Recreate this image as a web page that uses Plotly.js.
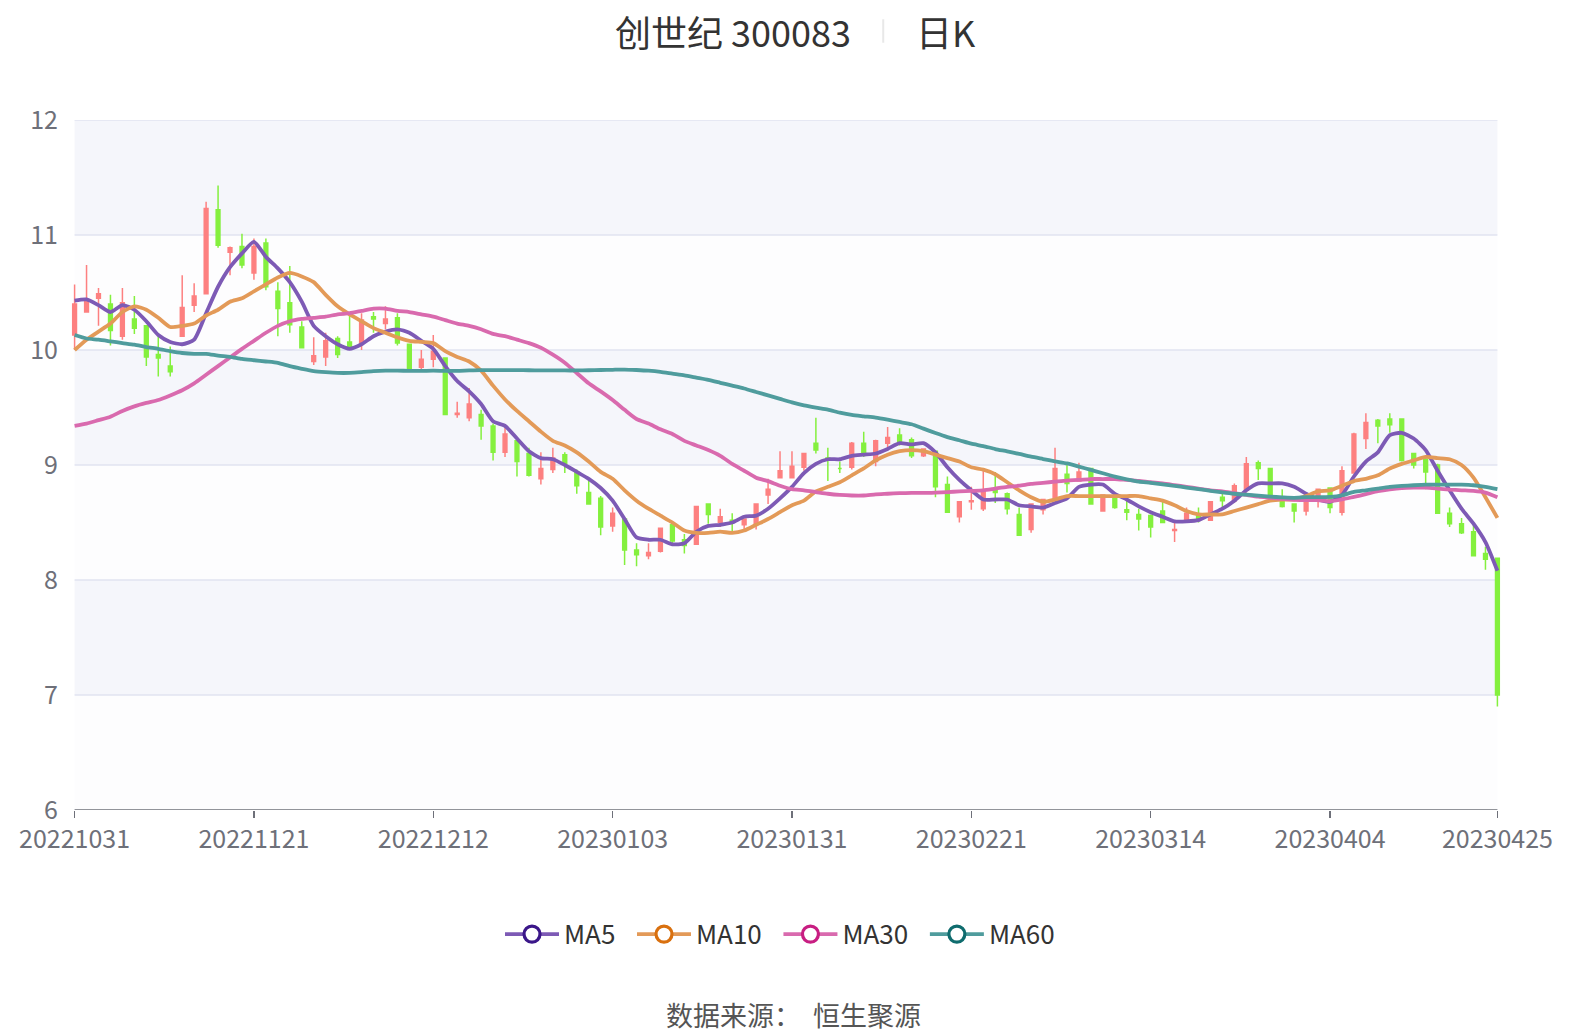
<!DOCTYPE html>
<html>
<head>
<meta charset="utf-8">
<script src="https://cdn.plot.ly/plotly-3.0.1.min.js"></script>
<style>
html,body{margin:0;padding:0;background:#fff;}
#chart{width:1590px;height:1034px;}
</style>
</head>
<body>
<div id="chart"></div>
<script>
// ---- data ----
const dates = [
"20221031","20221101","20221102","20221103","20221104","20221107","20221108","20221109","20221110","20221111",
"20221114","20221115","20221116","20221117","20221118","20221121","20221122","20221123","20221124","20221125",
"20221128","20221129","20221130","20221201","20221202","20221205","20221206","20221207","20221208","20221209",
"20221212","20221213","20221214","20221215","20221216","20221219","20221220","20221221","20221222","20221223",
"20221226","20221227","20221228","20221229","20221230","20230103","20230104","20230105","20230106","20230109",
"20230110","20230111","20230112","20230113","20230116","20230117","20230118","20230119","20230120","20230130",
"20230131","20230201","20230202","20230203","20230206","20230207","20230208","20230209","20230210","20230213",
"20230214","20230215","20230216","20230217","20230220","20230221","20230222","20230223","20230224","20230227",
"20230228","20230301","20230302","20230303","20230306","20230307","20230308","20230309","20230310","20230313",
"20230314","20230315","20230316","20230317","20230320","20230321","20230322","20230323","20230324","20230327",
"20230328","20230329","20230330","20230331","20230403","20230404","20230406","20230407","20230410","20230411",
"20230412","20230413","20230414","20230417","20230418","20230419","20230420","20230421","20230424","20230425"];

const openP = [10.13,10.33,10.45,10.40,10.12,10.27,10.21,9.96,9.86,10.12,
10.39,10.49,11.22,10.85,10.90,10.67,10.93,10.51,10.41,10.20,
9.90,9.94,10.10,10.07,10.06,10.29,10.23,10.28,10.05,9.85,
9.92,9.93,9.44,9.41,9.44,9.34,9.11,9.21,9.10,8.88,
8.96,9.09,8.94,8.76,8.71,8.47,8.53,8.26,8.21,8.25,
8.48,8.35,8.31,8.66,8.50,8.52,8.48,8.49,8.74,8.89,
8.89,8.98,9.19,9.06,8.97,8.98,9.19,9.03,9.19,9.26,
9.22,9.08,9.12,8.83,8.55,8.68,8.62,8.78,8.75,8.57,
8.44,8.61,8.70,8.92,8.86,8.97,8.60,8.73,8.61,8.57,
8.56,8.60,8.43,8.52,8.56,8.52,8.72,8.69,8.78,9.02,
8.97,8.71,8.66,8.60,8.70,8.80,8.59,8.93,9.23,9.39,
9.40,9.40,9.10,9.05,9.00,8.58,8.49,8.42,8.23,8.19];

const highP = [10.57,10.74,10.54,10.48,10.54,10.47,10.21,10.12,10.03,10.65,
10.58,11.29,11.43,10.90,11.01,10.97,10.97,10.59,10.73,10.25,
10.11,10.15,10.12,10.33,10.32,10.33,10.38,10.32,10.05,10.00,
10.13,9.93,9.55,9.67,9.48,9.36,9.35,9.23,9.15,9.11,
9.15,9.11,8.96,8.88,8.73,8.63,8.53,8.32,8.32,8.45,
8.49,8.40,8.64,8.66,8.62,8.58,8.53,8.66,8.88,9.12,
9.12,9.10,9.41,9.15,9.03,9.20,9.29,9.22,9.33,9.32,
9.24,9.14,9.12,8.90,8.68,8.81,8.96,8.94,8.76,8.63,
8.66,8.70,9.15,9.00,9.02,8.97,8.74,8.74,8.69,8.62,
8.57,8.69,8.50,8.63,8.63,8.68,8.75,8.84,9.07,9.04,
8.97,8.79,8.66,8.72,8.79,8.80,8.99,9.28,9.45,9.40,
9.45,9.40,9.10,9.08,9.01,8.63,8.54,8.48,8.29,8.19];

const lowP = [10.00,10.33,10.21,10.04,10.09,10.14,9.86,9.77,9.77,10.12,
10.33,10.49,10.89,10.65,10.71,10.61,10.52,10.12,10.15,10.02,
9.87,9.86,9.93,10.02,10.00,10.15,10.18,10.04,9.82,9.82,
9.85,9.44,9.41,9.38,9.22,9.04,9.07,8.90,8.90,8.83,
8.93,8.93,8.75,8.66,8.39,8.42,8.13,8.12,8.18,8.24,
8.31,8.23,8.31,8.49,8.46,8.42,8.44,8.44,8.66,8.89,
8.89,8.95,9.10,8.86,8.93,8.96,9.07,8.99,9.15,9.17,
9.06,9.07,8.72,8.59,8.50,8.61,8.60,8.67,8.57,8.39,
8.41,8.57,8.70,8.76,8.86,8.66,8.60,8.62,8.52,8.43,
8.37,8.50,8.33,8.50,8.50,8.52,8.63,8.67,8.76,8.87,
8.73,8.63,8.50,8.56,8.63,8.58,8.56,8.93,9.14,9.19,
9.28,9.03,8.97,8.79,8.58,8.46,8.40,8.21,8.09,6.90];

const closeP = [10.40,10.42,10.49,10.17,10.41,10.19,9.94,9.93,9.81,10.37,
10.47,11.23,10.91,10.89,10.74,10.90,10.55,10.36,10.22,10.02,
9.95,10.08,9.96,10.03,10.26,10.27,10.27,10.06,9.82,9.92,
9.99,9.44,9.45,9.53,9.34,9.11,9.27,9.03,8.91,8.97,
9.06,9.01,8.82,8.66,8.46,8.58,8.26,8.22,8.24,8.45,
8.34,8.30,8.64,8.57,8.55,8.50,8.53,8.66,8.79,8.95,
8.99,9.10,9.13,9.05,8.97,9.19,9.09,9.21,9.24,9.20,
9.08,9.14,8.81,8.59,8.68,8.69,8.78,8.76,8.62,8.39,
8.66,8.70,8.97,8.84,8.94,8.66,8.74,8.63,8.59,8.53,
8.46,8.50,8.44,8.58,8.53,8.68,8.69,8.82,9.01,8.97,
8.73,8.64,8.60,8.70,8.79,8.63,8.95,9.27,9.37,9.34,
9.35,9.04,9.00,8.94,8.58,8.49,8.41,8.21,8.18,7.00];

const ma5 = [10.43,10.44,10.39,10.33,10.39,10.35,10.25,10.13,10.07,10.05,
10.09,10.32,10.55,10.72,10.84,10.94,10.81,10.71,10.59,10.42,
10.21,10.12,10.05,10.01,10.05,10.12,10.16,10.18,10.15,10.08,
10.01,9.86,9.73,9.64,9.53,9.38,9.34,9.23,9.12,9.06,
9.05,9.00,8.94,8.88,8.80,8.69,8.53,8.37,8.35,8.35,
8.31,8.32,8.42,8.47,8.48,8.50,8.55,8.56,8.62,8.71,
8.81,8.93,9.01,9.05,9.05,9.08,9.09,9.10,9.14,9.19,
9.18,9.19,9.11,8.98,8.87,8.78,8.70,8.70,8.70,8.65,
8.64,8.63,8.67,8.71,8.81,8.83,8.83,8.75,8.70,8.64,
8.59,8.55,8.51,8.51,8.52,8.57,8.62,8.69,8.78,8.84,
8.84,8.84,8.81,8.75,8.70,8.68,8.74,8.90,9.03,9.11,
9.26,9.28,9.23,9.13,8.95,8.78,8.62,8.49,8.33,8.08];

const ma10 = [10.00,10.09,10.16,10.23,10.33,10.38,10.35,10.28,10.20,10.21,
10.23,10.30,10.35,10.42,10.45,10.51,10.57,10.63,10.67,10.64,
10.59,10.48,10.38,10.31,10.25,10.19,10.15,10.11,10.08,10.07,
10.06,9.99,9.94,9.90,9.82,9.69,9.57,9.47,9.38,9.29,
9.21,9.17,9.11,9.03,8.94,8.88,8.78,8.69,8.62,8.56,
8.50,8.43,8.41,8.41,8.42,8.41,8.43,8.48,8.53,8.59,
8.65,8.69,8.77,8.81,8.85,8.91,8.97,9.04,9.09,9.12,
9.13,9.12,9.09,9.06,9.03,8.98,8.96,8.92,8.85,8.78,
8.72,8.68,8.70,8.73,8.73,8.73,8.73,8.73,8.73,8.73,
8.71,8.69,8.65,8.60,8.57,8.57,8.57,8.60,8.63,8.66,
8.69,8.70,8.70,8.73,8.77,8.78,8.82,8.86,8.88,8.91,
8.97,9.01,9.04,9.07,9.06,9.05,9.00,8.89,8.72,8.54];

const ma30 = [9.34,9.36,9.39,9.42,9.47,9.51,9.54,9.565,9.605,9.65,
9.71,9.785,9.86,9.935,10.01,10.08,10.15,10.21,10.25,10.27,
10.28,10.29,10.31,10.32,10.34,10.36,10.36,10.34,10.33,10.31,
10.29,10.26,10.23,10.21,10.18,10.14,10.12,10.09,10.06,10.02,
9.96,9.89,9.80,9.71,9.64,9.565,9.48,9.40,9.36,9.31,
9.27,9.21,9.17,9.13,9.08,9.01,8.95,8.89,8.86,8.82,
8.79,8.78,8.765,8.75,8.74,8.735,8.735,8.745,8.75,8.755,
8.757,8.757,8.76,8.765,8.77,8.775,8.78,8.795,8.81,8.82,
8.835,8.845,8.855,8.865,8.87,8.878,8.878,8.878,8.87,8.862,
8.85,8.84,8.825,8.81,8.795,8.78,8.77,8.755,8.74,8.725,
8.715,8.705,8.698,8.695,8.695,8.685,8.70,8.723,8.746,8.772,
8.789,8.80,8.803,8.803,8.795,8.786,8.78,8.775,8.76,8.72];

const ma60 = [10.13,10.10,10.09,10.075,10.06,10.046,10.026,10.01,9.99,9.974,
9.966,9.966,9.951,9.94,9.922,9.911,9.90,9.888,9.859,9.836,
9.816,9.807,9.801,9.801,9.807,9.816,9.821,9.821,9.818,9.818,
9.82,9.818,9.818,9.822,9.825,9.825,9.825,9.825,9.824,9.823,
9.822,9.822,9.822,9.824,9.826,9.828,9.83,9.826,9.82,9.81,
9.795,9.78,9.76,9.74,9.715,9.69,9.665,9.635,9.605,9.575,
9.545,9.519,9.499,9.481,9.455,9.435,9.423,9.412,9.394,9.374,
9.354,9.316,9.278,9.243,9.215,9.185,9.165,9.139,9.119,9.096,
9.072,9.052,9.032,9.014,8.986,8.957,8.928,8.899,8.875,8.855,
8.845,8.832,8.818,8.804,8.79,8.776,8.762,8.75,8.742,8.733,
8.725,8.719,8.715,8.72,8.72,8.723,8.737,8.766,8.78,8.795,
8.809,8.818,8.824,8.829,8.829,8.829,8.829,8.824,8.81,8.79];

const tickDates = ["20221031","20221121","20221212","20230103","20230131","20230221","20230314","20230404","20230425"];
const maNames = ["MA5","MA10","MA30","MA60"];
const maSeries = [ma5, ma10, ma30, ma60];
const lineColors = ["#7d5ab5","#e39a58","#d96aae","#4f9c9d"];
const markerColors = ["#3b1789","#d9700f","#c81e82","#0f6c6e"];

// ---- chart ----
const FONT = '"Noto Sans CJK SC","Noto Sans",sans-serif';
const traces = [];
traces.push({
  type: 'candlestick', x: dates, open: openP, high: highP, low: lowP, close: closeP,
  increasing: {line: {color: '#fd8080', width: 1.5}, fillcolor: '#fd8080'},
  decreasing: {line: {color: '#84f03e', width: 1.5}, fillcolor: '#84f03e'},
  whiskerwidth: 0, showlegend: false, hoverinfo: 'x+y'
});
maSeries.forEach((s, k) => {
  traces.push({
    type: 'scatter', mode: 'lines', x: dates, y: s, showlegend: false,
    line: {color: lineColors[k], width: 3.8, shape: 'spline', smoothing: 0.6},
    hoverinfo: 'skip'
  });
});
maNames.forEach((n, k) => {
  traces.push({
    type: 'scatter', mode: 'lines+markers', x: [null], y: [null], name: n + '\u00a0\u00a0',
    line: {color: lineColors[k], width: 3.8},
    marker: {symbol: 'circle', size: 16, color: '#ffffff', line: {color: markerColors[k], width: 3.2}}
  });
});

const shapes = [];
const bandY = [[11,12,'#f5f6fb'],[10,11,'#fdfdfe'],[9,10,'#f5f6fb'],[8,9,'#fdfdfe'],[7,8,'#f5f6fb'],[6,7,'#fdfdfe']];
bandY.forEach(b => shapes.push({type:'rect', xref:'x', yref:'y', x0:0, x1:dates.length-1, y0:b[0], y1:b[1],
  fillcolor:b[2], line:{width:0}, layer:'below'}));
[7,8,9,10,11,12].forEach(v => shapes.push({type:'line', xref:'x', yref:'y', x0:0, x1:dates.length-1, y0:v, y1:v,
  line:{color:'#e0e3f0', width:1.3}, layer:'below'}));
shapes.push({type:'line', xref:'x', yref:'y', x0:0, x1:dates.length-1, y0:6, y1:6,
  line:{color:'#6e7079', width:1.5}, layer:'above'});
// title separator
shapes.push({type:'line', xref:'paper', yref:'paper', x0:0.568, x1:0.568, y0:1.112, y1:1.146,
  line:{color:'#e8e8e8', width:2}});

const layout = {
  width: 1590, height: 1034,
  margin: {l: 71, r: 89, t: 120, b: 224},
  paper_bgcolor: '#ffffff', plot_bgcolor: '#ffffff',
  font: {family: FONT, color: '#6e7079'},
  showlegend: true,
  legend: {orientation: 'h', x: 0.5, xanchor: 'center', y: -0.18, yanchor: 'middle',
    font: {size: 26, color: '#333333', family: FONT}, itemwidth: 54, bgcolor: 'rgba(0,0,0,0)'},
  boxgap: 0.55,
  xaxis: {type: 'category', range: [-0.3, dates.length - 0.7], rangeslider: {visible: false},
    tickmode: 'array', tickvals: tickDates, ticktext: tickDates,
    ticks: 'outside', ticklen: 7, tickwidth: 1.5, tickcolor: '#6e7079',
    tickfont: {size: 25, color: '#6e7079', family: FONT},
    showgrid: false, zeroline: false, showline: false, fixedrange: true},
  yaxis: {range: [6, 12], tickmode: 'linear', tick0: 6, dtick: 1,
    ticks: '', ticklabelstandoff: 12,
    tickfont: {size: 25, color: '#6e7079', family: FONT},
    showgrid: false, zeroline: false, showline: false, fixedrange: true},
  shapes: shapes,
  annotations: [
    {xref:'paper', yref:'paper', x:0.4627, y:1.129, xanchor:'center', yanchor:'middle', showarrow:false,
     text:'创世纪 300083', font:{size:36, color:'#333333', family:FONT}},
    {xref:'paper', yref:'paper', x:0.6116, y:1.129, xanchor:'center', yanchor:'middle', showarrow:false,
     text:'日K', font:{size:36, color:'#333333', family:FONT}},
    {xref:'paper', yref:'paper', x:0.5053, y:-0.297, xanchor:'center', yanchor:'middle', showarrow:false,
     text:'数据来源：  恒生聚源', font:{size:27, color:'#555555', family:FONT}}
  ]
};

Plotly.newPlot('chart', traces, layout, {displayModeBar: false, staticPlot: true});
</script>
</body>
</html>
